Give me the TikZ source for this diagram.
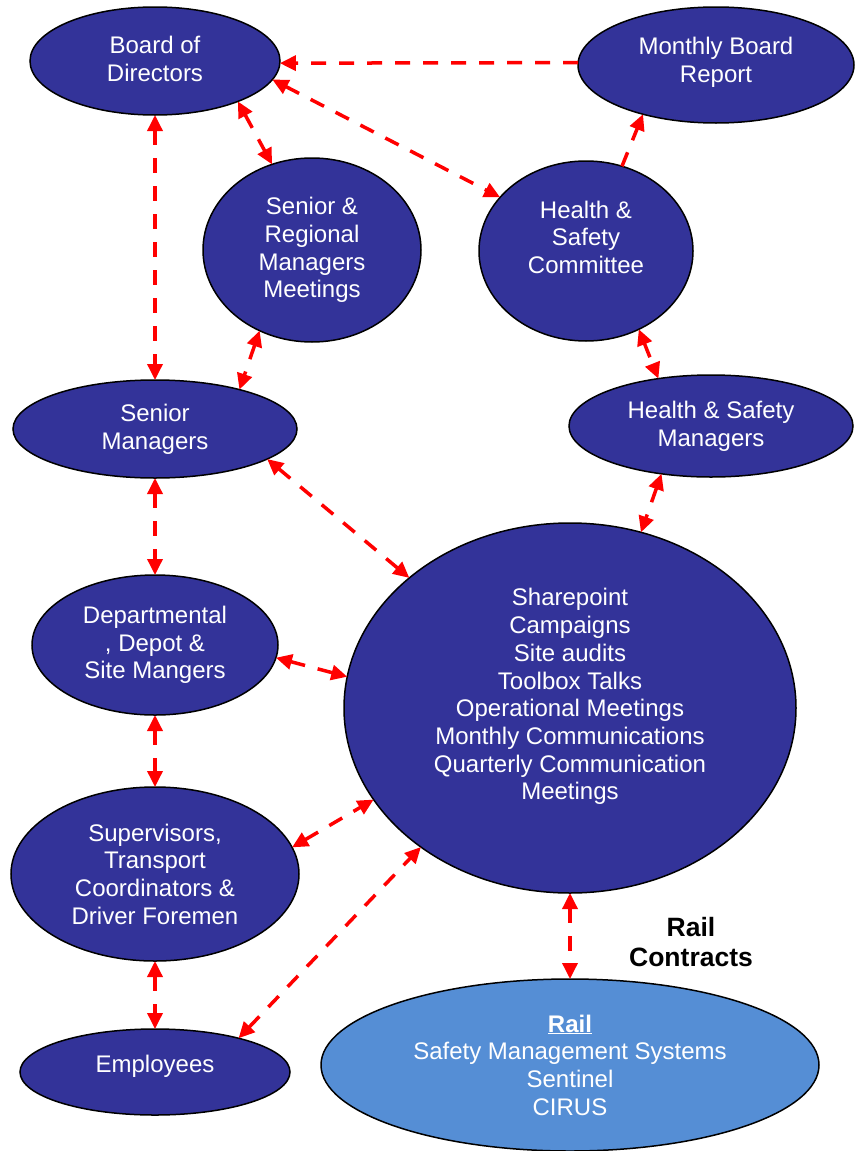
\documentclass[tikz,border=0pt]{standalone}
\usepackage{fontspec}
\setmainfont{Liberation Sans}
\usetikzlibrary{arrows.meta}
\usetikzlibrary{shapes.geometric}
\definecolor{boxblue}{RGB}{51,51,153}
\definecolor{railblue}{RGB}{85,142,213}

\begin{document}
\begin{tikzpicture}[x=1pt, y=-1pt,
    redtip/.tip={Triangle[length=16pt, width=15pt]},
    blob/.style={ellipse, draw=black, line width=1.5pt, fill=boxblue, text=white,
        inner sep=0pt, outer sep=0pt, align=center, font=\fontsize{24}{27.7}\selectfont},
    link/.style={draw=red, line width=3.5pt, dash pattern=on 15pt off 13pt, redtip-redtip},
    oneway/.style={link, -redtip}]
    \useasboundingbox (0,0) rectangle (855,1151);
    \node[blob, minimum width=250pt, minimum height=108pt, text depth=4pt] (board) at (155,61) {Board of\\Directors};
    \node[blob, minimum width=276pt, minimum height=116pt, text depth=10pt] (report) at (716,65) {Monthly Board\\Report};
    \node[blob, minimum width=218pt, minimum height=184pt] (srmeet) at (312,250) {Senior \&\\Regional\\Managers\\Meetings};
    \node[blob, minimum width=214pt, minimum height=180pt] (hscomm) at (586,251) {Health \&\\Safety\\Committee\\~};
    \node[blob, minimum width=284pt, minimum height=98pt] (senior) at (155,429) {Senior\\Managers};
    \node[blob, minimum width=284pt, minimum height=102pt] (hsman) at (711,426) {Health \& Safety\\Managers};
    \node[blob, minimum width=246pt, minimum height=140pt] (depot) at (155,645) {Departmental\\, Depot \&\\Site Mangers};
    \node[blob, minimum width=452pt, minimum height=370pt] (hub) at (570,708)
        {Sharepoint\\Campaigns\\Site audits\\Toolbox Talks\\Operational Meetings\\Monthly Communications\\Quarterly Communication\\Meetings\\~};
    \node[blob, minimum width=288pt, minimum height=174pt] (super) at (155,874) {Supervisors,\\Transport\\Coordinators \&\\Driver Foremen};
    \node[blob, minimum width=270pt, minimum height=86pt, text depth=17pt] (staff) at (155,1072) {Employees};
    \node[blob, fill=railblue, minimum width=498pt, minimum height=172pt] (rail) at (570,1065)
        {\underline{\textbf{Rail}}\\Safety Management Systems\\Sentinel\\CIRUS};
    \node[font=\bfseries\fontsize{26.5}{30}\selectfont, align=center] (railcon) at (691,942) {Rail\\Contracts};

    % connectors
    \draw[oneway] (report.179) -- (board.-1);
    \draw[link] (board.south) -- (senior.north);
    \draw[link] (board.-26) -- (srmeet.115);
    \draw[link] (board.-9) -- (hscomm.148);
    \draw[oneway] (hscomm.67) -- (report.214);
    \draw[link] (srmeet.237) -- (senior.25);
    \draw[link] (hscomm.-56) -- (hsman.138);
    \draw[link] (senior.-15) -- (hub.141);
    \draw[link] (hsman.224) -- (hub.68);
    \draw[link] (senior.south) -- (depot.north);
    \draw[link] (depot.-6) -- (hub.172);
    \draw[link] (depot.south) -- (super.north);
    \draw[link] (super.11) -- (hub.205);
    \draw[link] (staff.22) -- (hub.223);
    \draw[link] (super.south) -- (staff.north);
    \draw[link] (hub.south) -- (rail.north);
\end{tikzpicture}
\end{document}
